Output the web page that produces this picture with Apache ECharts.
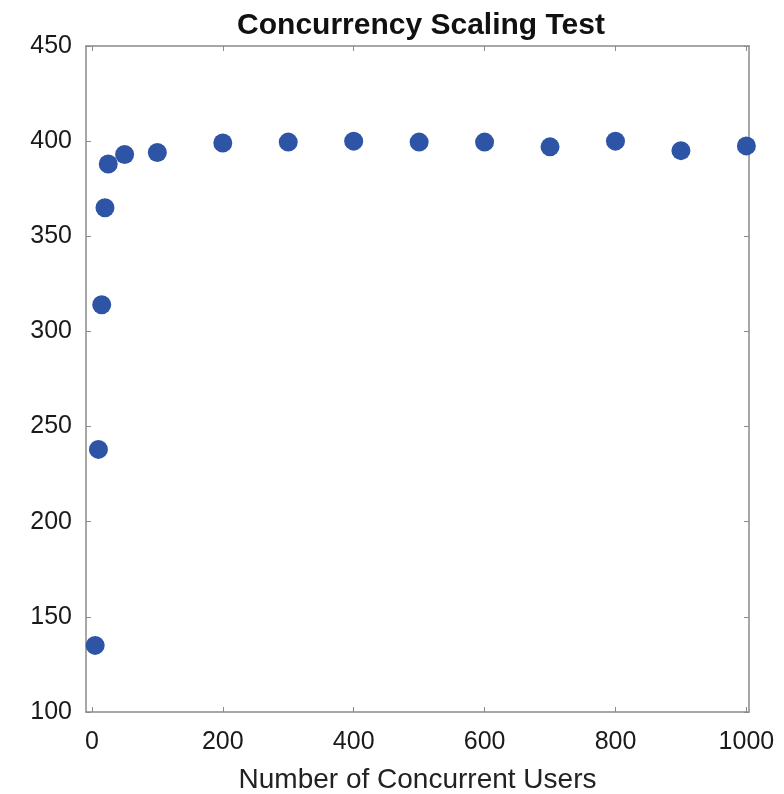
<!DOCTYPE html>
<html>
<head>
<meta charset="utf-8">
<style>
  html, body { margin: 0; padding: 0; background: #fff; }
  #chart { width: 784px; height: 794px; }
</style>
<script src="https://cdn.jsdelivr.net/npm/echarts@6/dist/echarts.min.js"></script>
</head>
<body>
<div id="chart"></div>
<script>
// number of concurrent users (x) and measured throughput (y)
var users = [5, 10, 15, 20, 25, 50, 100, 200, 300, 400, 500, 600, 700, 800, 900, 1000]
var throughput = [135, 238, 314, 365, 388, 393, 394, 399, 399.5, 400, 399.5, 399.5, 397, 400, 395, 397.5]
var xTicks = [0, 200, 400, 600, 800, 1000]

var points = users.map(function (u, i) { return [u, throughput[i]] })

var chart = echarts.init(document.getElementById('chart'))

var font = 'Liberation Sans, Arial, sans-serif'
var boxColor = '#8a8a8a'

var xBase = {
  type: 'value',
  min: -9,
  max: 1004,
  axisLine: { show: true, onZero: false, lineStyle: { color: boxColor, width: 1.5 } },
  axisTick: { show: true, inside: true, length: 5, customValues: xTicks, lineStyle: { color: boxColor } },
  splitLine: { show: false }
}
var yBase = {
  type: 'value',
  min: 100,
  max: 450,
  interval: 50,
  axisLine: { show: true, onZero: false, lineStyle: { color: boxColor, width: 1.5 } },
  axisTick: { show: true, inside: true, length: 5, lineStyle: { color: boxColor } },
  splitLine: { show: false }
}

chart.setOption({
  animation: false,
  backgroundColor: '#fff',
  title: {
    text: 'Concurrency Scaling Test',
    left: 416,
    textAlign: 'center',
    top: 6,
    textStyle: { fontFamily: font, fontSize: 30, fontWeight: 'bold', color: '#111' }
  },
  grid: { left: 86, right: 35, top: 46, bottom: 82, outerBoundsMode: 'none' },
  xAxis: [
    Object.assign({}, xBase, {
      position: 'bottom',
      name: 'Number of Concurrent Users',
      nameLocation: 'middle',
      nameGap: 54,
      nameTextStyle: { fontFamily: font, fontSize: 28, color: '#222' },
      axisLabel: {
        customValues: xTicks,
        margin: 18,
        fontFamily: font,
        fontSize: 25,
        color: '#1a1a1a',
        formatter: function (v) { return String(v) }
      }
    }),
    Object.assign({}, xBase, { position: 'top', axisLabel: { show: false } })
  ],
  yAxis: [
    Object.assign({}, yBase, {
      position: 'left',
      axisLabel: { margin: 14, fontFamily: font, fontSize: 25, color: '#1a1a1a' }
    }),
    Object.assign({}, yBase, { position: 'right', axisLabel: { show: false } })
  ],
  series: [
    {
      type: 'scatter',
      data: points,
      symbol: 'circle',
      symbolSize: 19,
      itemStyle: { color: '#2e54a6', opacity: 1 }
    }
  ]
})
</script>
</body>
</html>
